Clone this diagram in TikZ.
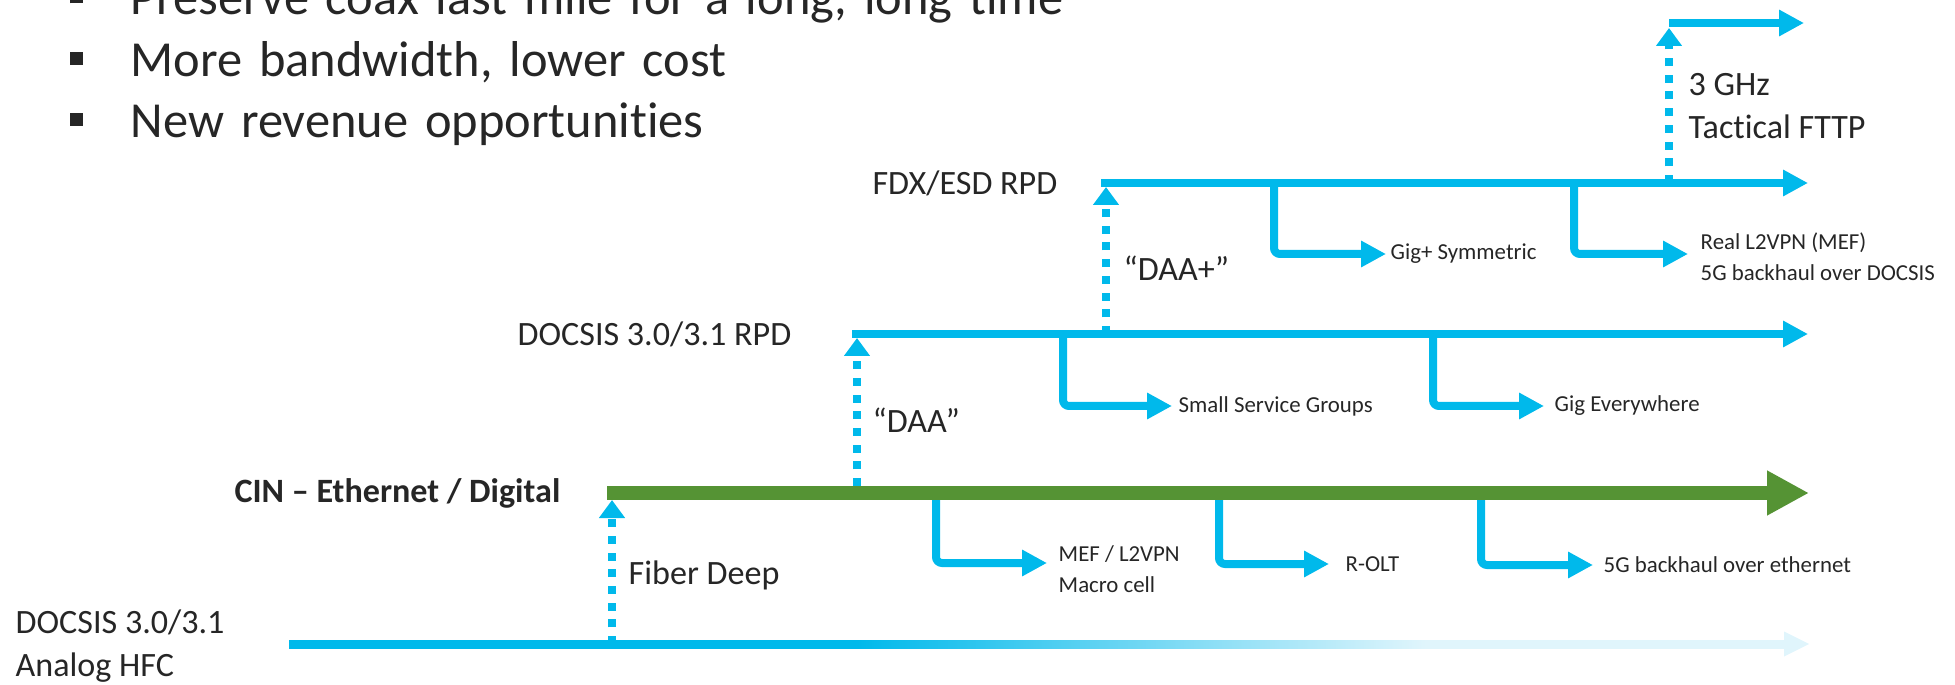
\documentclass[tikz,border=0pt]{standalone}
\usepackage{fontspec}
\setmainfont{Carlito}[Ligatures=NoCommon]
\usetikzlibrary{arrows.meta,positioning}
\definecolor{cyanline}{HTML}{00B9EB}
\definecolor{palecyan}{HTML}{E0F5FC}
\definecolor{cingreen}{HTML}{559334}
\definecolor{txt}{HTML}{262626}
\pgfdeclarehorizontalshading{hfcfade}{100bp}{color(0bp)=(cyanline); color(44bp)=(cyanline); color(63bp)=(palecyan); color(100bp)=(palecyan)}

\begin{document}
\begin{tikzpicture}[
    track/.style={draw=cyanline, line width=0.8mm, -{Triangle[length=2.5mm,width=2.5mm]}},
    cintrack/.style={draw=cingreen, line width=1.4mm, -{Triangle[length=4.2mm,width=4.2mm]}},
    branch/.style={track, rounded corners=0.6mm},
    upgrade/.style={draw=cyanline, line width=0.8mm, dash pattern=on 0.8mm off 0.87mm, -{Triangle[length=1.8mm,width=2.5mm]}},
    lbl/.style={inner sep=0, text=txt, font=\fontsize{9.7}{12.2}\selectfont},
    svc/.style={inner sep=0, text=txt, font=\fontsize{6.5}{8.8}\selectfont}]
    \useasboundingbox (0,0) rectangle (19.55,6.84);

    \node [anchor=base west, inner sep=0, text=txt, text width=16cm, align=left,
        font=\fontsize{14.35}{17.4}\selectfont] (bullets) at (0.69,6.69) {
        \makebox[6.1mm][l]{\rule[1.15mm]{1.3mm}{1.3mm}}Preserve coax last mile for a long, long time\\
        \makebox[6.1mm][l]{\rule[1.15mm]{1.3mm}{1.3mm}}More bandwidth, lower cost\\
        \makebox[6.1mm][l]{\rule[1.15mm]{1.3mm}{1.3mm}}New revenue opportunities
    };

    \coordinate (hfc-start) at (2.89,0.40);
    \coordinate (hfc-end) at (18.09,0.40);
    \coordinate (cin-start) at (6.07,1.91);
    \coordinate (cin-end) at (18.09,1.91);
    \coordinate (rpd-start) at (8.52,3.50);
    \coordinate (rpd-end) at (18.08,3.50);
    \coordinate (fdx-start) at (11.01,5.01);
    \coordinate (fdx-end) at (18.08,5.01);
    \coordinate (top-start) at (16.69,6.61);
    \coordinate (top-end) at (18.04,6.61);

    \coordinate (cin-b1) at (9.36,1.91);
    \coordinate (cin-b2) at (12.19,1.91);
    \coordinate (cin-b3) at (14.81,1.91);
    \coordinate (rpd-b1) at (10.63,3.50);
    \coordinate (rpd-b2) at (14.33,3.50);
    \coordinate (fdx-b1) at (12.74,5.01);
    \coordinate (fdx-b2) at (15.74,5.01);
    \coordinate (mef-in) at (10.47,1.21);
    \coordinate (rolt-in) at (13.29,1.20);
    \coordinate (eth-in) at (15.93,1.19);
    \coordinate (sg-in) at (11.72,2.78);
    \coordinate (gig-in) at (15.44,2.78);
    \coordinate (sym-in) at (13.86,4.30);
    \coordinate (l2vpn-in) at (16.88,4.30);

    \coordinate (fiber-from) at (6.12,0.40);
    \coordinate (fiber-to) at (6.12,1.84);
    \coordinate (daa-from) at (8.57,1.98);
    \coordinate (daa-to) at (8.57,3.46);
    \coordinate (daaplus-from) at (11.06,3.50);
    \coordinate (daaplus-to) at (11.06,4.97);
    \coordinate (ghz-from) at (16.69,5.01);
    \coordinate (ghz-to) at (16.69,6.56);

    \shade [shading=hfcfade] ([yshift=-0.4mm]hfc-start) rectangle ([xshift=-2.5mm,yshift=0.4mm]hfc-end);
    \fill [palecyan] ([xshift=-2.5mm,yshift=1.25mm]hfc-end) -- (hfc-end) -- ([xshift=-2.5mm,yshift=-1.25mm]hfc-end) -- cycle;

    \draw [branch] (cin-b1) |- (mef-in);
    \draw [branch] (cin-b2) |- (rolt-in);
    \draw [branch] (cin-b3) |- (eth-in);
    \draw [branch] (rpd-b1) |- (sg-in);
    \draw [branch] (rpd-b2) |- (gig-in);
    \draw [branch] (fdx-b1) |- (sym-in);
    \draw [branch] (fdx-b2) |- (l2vpn-in);

    \draw [upgrade] (fiber-from) -- (fiber-to);
    \draw [upgrade] (daa-from) -- (daa-to);
    \draw [upgrade] (daaplus-from) -- (daaplus-to);
    \draw [upgrade] (ghz-from) -- (ghz-to);

    \draw [cintrack] (cin-start) -- (cin-end);
    \draw [track] (rpd-start) -- (rpd-end);
    \draw [track] (fdx-start) -- (fdx-end);
    \draw [track] (top-start) -- (top-end);

    \node [lbl, left=0.43cm of fdx-start] (fdx) {FDX/ESD RPD};
    \node [lbl, left=0.60cm of rpd-start] (rpd) {DOCSIS 3.0/3.1 RPD};
    \node [lbl, left=0.46cm of cin-start, font=\fontsize{9.7}{12.2}\selectfont\bfseries] (cin) {CIN – Ethernet / Digital};
    \node [lbl, anchor=west, align=left] (hfc) at (0.15,0.38) {DOCSIS 3.0/3.1\\Analog HFC};
    \node [lbl, anchor=west] (fiber) at (6.28,1.09) {Fiber Deep};
    \node [lbl, anchor=west] (daa) at (8.72,2.64) {“DAA”};
    \node [lbl, anchor=west] (daaplus) at (11.23,4.16) {“DAA+”};
    \node [lbl, anchor=west, align=left] (ghz) at (16.88,5.78) {3 GHz\\Tactical FTTP};

    \node [svc, right=0.11cm of mef-in, yshift=-0.6mm, align=left] (mef) {MEF / L2VPN\\Macro cell};
    \node [svc, right=0.16cm of rolt-in] (rolt) {R-OLT};
    \node [svc, right=0.10cm of eth-in] (eth) {5G backhaul over ethernet};
    \node [svc, right=0.06cm of sg-in] (sg) {Small Service Groups};
    \node [svc, right=0.10cm of gig-in] (gig) {Gig Everywhere};
    \node [svc, right=0.04cm of sym-in] (sym) {Gig+ Symmetric};
    \node [svc, right=0.12cm of l2vpn-in, yshift=-0.3mm, align=left] (l2vpn) {Real L2VPN (MEF)\\5G backhaul over DOCSIS};
\end{tikzpicture}
\end{document}
